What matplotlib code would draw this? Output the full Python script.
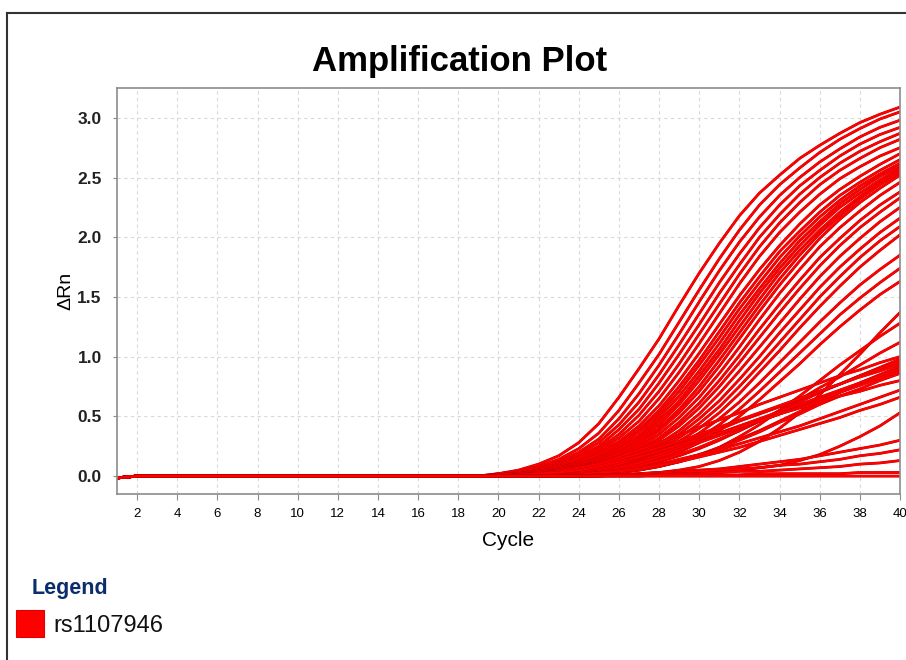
import matplotlib
matplotlib.use("Agg")
import matplotlib.pyplot as plt
import matplotlib.patheffects as pe
from matplotlib.patches import Rectangle
from matplotlib.lines import Line2D

plt.rcParams['font.family'] = ['Liberation Sans', 'DejaVu Sans']

# All wells sit on the baseline up to cycle 20, then one value per cycle 20..40
BASE_CYCLES = [1, 2, 19]
BASE_VALUES = [-0.015, 0.0, 0.0]
CYCLES = list(range(20, 41))

# Delta Rn per well (early, high plateau wells first)
top_wells = [
    [0.02, 0.05, 0.10, 0.17, 0.28, 0.44, 0.66, 0.90, 1.15, 1.43, 1.70, 1.95, 2.18, 2.37, 2.52, 2.66, 2.77, 2.87, 2.96, 3.03, 3.09],
    [0.02, 0.04, 0.08, 0.14, 0.23, 0.36, 0.55, 0.78, 1.02, 1.29, 1.56, 1.82, 2.06, 2.27, 2.44, 2.58, 2.71, 2.82, 2.91, 2.99, 3.05],
    [0.01, 0.03, 0.07, 0.12, 0.20, 0.31, 0.48, 0.69, 0.93, 1.19, 1.46, 1.72, 1.96, 2.17, 2.35, 2.50, 2.63, 2.74, 2.84, 2.92, 2.98],
    [0.01, 0.03, 0.06, 0.11, 0.18, 0.28, 0.43, 0.62, 0.85, 1.10, 1.36, 1.62, 1.86, 2.08, 2.27, 2.43, 2.56, 2.68, 2.78, 2.86, 2.92],
    [0.01, 0.02, 0.05, 0.10, 0.16, 0.25, 0.39, 0.56, 0.78, 1.02, 1.27, 1.53, 1.77, 2.00, 2.19, 2.36, 2.50, 2.62, 2.72, 2.80, 2.87],
    [0.01, 0.02, 0.05, 0.09, 0.15, 0.23, 0.35, 0.51, 0.71, 0.94, 1.19, 1.44, 1.69, 1.92, 2.12, 2.29, 2.44, 2.56, 2.66, 2.75, 2.82],
    [0.01, 0.02, 0.04, 0.08, 0.13, 0.21, 0.32, 0.46, 0.65, 0.87, 1.11, 1.36, 1.61, 1.84, 2.04, 2.21, 2.36, 2.49, 2.59, 2.68, 2.75],
]
mid_wells = [
    [0.01, 0.02, 0.04, 0.07, 0.12, 0.19, 0.29, 0.42, 0.59, 0.80, 1.03, 1.27, 1.51, 1.73, 1.93, 2.11, 2.27, 2.40, 2.51, 2.61, 2.70],
    [0.01, 0.02, 0.04, 0.07, 0.11, 0.18, 0.27, 0.39, 0.55, 0.75, 0.97, 1.21, 1.45, 1.67, 1.88, 2.05, 2.21, 2.35, 2.46, 2.56, 2.65],
    [0.01, 0.02, 0.03, 0.06, 0.10, 0.16, 0.25, 0.37, 0.52, 0.71, 0.93, 1.16, 1.40, 1.62, 1.83, 2.01, 2.17, 2.31, 2.43, 2.53, 2.62],
    [0.00, 0.01, 0.03, 0.06, 0.10, 0.15, 0.23, 0.34, 0.49, 0.67, 0.88, 1.11, 1.35, 1.57, 1.78, 1.97, 2.13, 2.28, 2.40, 2.51, 2.60],
    [0.00, 0.01, 0.03, 0.05, 0.09, 0.14, 0.22, 0.32, 0.46, 0.63, 0.84, 1.06, 1.30, 1.53, 1.74, 1.93, 2.10, 2.25, 2.37, 2.48, 2.58],
    [0.00, 0.01, 0.03, 0.05, 0.08, 0.13, 0.20, 0.30, 0.43, 0.60, 0.80, 1.02, 1.25, 1.48, 1.70, 1.89, 2.06, 2.21, 2.34, 2.46, 2.56],
    [0.00, 0.01, 0.02, 0.05, 0.08, 0.12, 0.19, 0.28, 0.40, 0.56, 0.75, 0.97, 1.20, 1.43, 1.65, 1.85, 2.03, 2.18, 2.32, 2.44, 2.54],
    [0.00, 0.01, 0.02, 0.04, 0.07, 0.11, 0.17, 0.26, 0.38, 0.53, 0.71, 0.92, 1.15, 1.38, 1.60, 1.80, 1.99, 2.15, 2.29, 2.41, 2.52],
    [0.00, 0.01, 0.02, 0.04, 0.07, 0.11, 0.16, 0.24, 0.35, 0.49, 0.66, 0.86, 1.08, 1.31, 1.53, 1.73, 1.92, 2.08, 2.22, 2.35, 2.46],
    [0.00, 0.01, 0.02, 0.04, 0.06, 0.10, 0.15, 0.22, 0.32, 0.45, 0.61, 0.80, 1.01, 1.23, 1.44, 1.64, 1.83, 1.99, 2.14, 2.27, 2.38],
    [0.00, 0.01, 0.02, 0.03, 0.06, 0.09, 0.14, 0.21, 0.30, 0.42, 0.57, 0.75, 0.95, 1.16, 1.37, 1.57, 1.76, 1.93, 2.08, 2.21, 2.33],
]
lower_wells = [
    [0.00, 0.01, 0.02, 0.03, 0.05, 0.08, 0.13, 0.19, 0.27, 0.38, 0.52, 0.69, 0.88, 1.08, 1.28, 1.48, 1.67, 1.84, 1.99, 2.13, 2.25],
    [0.00, 0.01, 0.01, 0.03, 0.05, 0.08, 0.12, 0.17, 0.25, 0.35, 0.48, 0.63, 0.81, 1.00, 1.20, 1.39, 1.58, 1.75, 1.90, 2.04, 2.16],
    [0.00, 0.00, 0.01, 0.03, 0.04, 0.07, 0.11, 0.16, 0.23, 0.32, 0.44, 0.58, 0.75, 0.93, 1.12, 1.31, 1.50, 1.67, 1.83, 1.97, 2.09],
    [0.00, 0.00, 0.01, 0.02, 0.04, 0.06, 0.10, 0.15, 0.21, 0.29, 0.40, 0.53, 0.69, 0.87, 1.05, 1.24, 1.42, 1.59, 1.75, 1.89, 2.02],
    [0.00, 0.00, 0.01, 0.02, 0.04, 0.06, 0.09, 0.13, 0.19, 0.26, 0.36, 0.48, 0.62, 0.78, 0.95, 1.12, 1.29, 1.45, 1.60, 1.73, 1.85],
    [0.00, 0.00, 0.01, 0.02, 0.03, 0.05, 0.08, 0.12, 0.17, 0.23, 0.32, 0.43, 0.56, 0.71, 0.87, 1.03, 1.19, 1.35, 1.49, 1.62, 1.74],
    [0.00, 0.00, 0.01, 0.02, 0.03, 0.05, 0.07, 0.10, 0.14, 0.20, 0.28, 0.38, 0.50, 0.64, 0.79, 0.94, 1.10, 1.25, 1.39, 1.52, 1.63],
]
late_wells = [
    [0.00, 0.00, 0.00, 0.00, 0.00, 0.01, 0.01, 0.02, 0.03, 0.05, 0.08, 0.13, 0.20, 0.29, 0.40, 0.53, 0.68, 0.85, 1.02, 1.20, 1.37],
    [0.00, 0.00, 0.00, 0.01, 0.01, 0.02, 0.03, 0.05, 0.08, 0.12, 0.17, 0.24, 0.33, 0.43, 0.55, 0.67, 0.80, 0.93, 1.05, 1.17, 1.28],
    [0.00, 0.00, 0.00, 0.01, 0.02, 0.03, 0.05, 0.08, 0.12, 0.17, 0.23, 0.30, 0.38, 0.46, 0.55, 0.64, 0.74, 0.83, 0.93, 1.03, 1.12],
]
shallow_wells = [
    [0.00, 0.01, 0.02, 0.04, 0.07, 0.11, 0.16, 0.22, 0.28, 0.34, 0.41, 0.47, 0.53, 0.60, 0.66, 0.72, 0.78, 0.84, 0.89, 0.95, 1.00],
    [0.00, 0.00, 0.00, 0.01, 0.02, 0.04, 0.06, 0.09, 0.13, 0.18, 0.24, 0.31, 0.38, 0.46, 0.54, 0.62, 0.70, 0.77, 0.84, 0.91, 0.98],
    [0.00, 0.00, 0.01, 0.02, 0.03, 0.06, 0.10, 0.15, 0.21, 0.27, 0.33, 0.39, 0.46, 0.52, 0.58, 0.65, 0.71, 0.77, 0.84, 0.90, 0.96],
    [0.00, 0.01, 0.02, 0.04, 0.07, 0.10, 0.14, 0.19, 0.24, 0.29, 0.35, 0.41, 0.47, 0.53, 0.59, 0.65, 0.71, 0.77, 0.83, 0.88, 0.94],
    [0.00, 0.00, 0.00, 0.01, 0.01, 0.02, 0.04, 0.06, 0.09, 0.13, 0.18, 0.24, 0.31, 0.38, 0.46, 0.54, 0.62, 0.70, 0.78, 0.85, 0.92],
    [0.00, 0.00, 0.01, 0.01, 0.03, 0.05, 0.08, 0.12, 0.18, 0.24, 0.30, 0.36, 0.42, 0.48, 0.54, 0.60, 0.66, 0.72, 0.78, 0.84, 0.90],
    [0.00, 0.00, 0.00, 0.01, 0.02, 0.04, 0.07, 0.11, 0.16, 0.22, 0.28, 0.34, 0.40, 0.46, 0.52, 0.58, 0.64, 0.70, 0.76, 0.82, 0.88],
    [0.00, 0.00, 0.00, 0.00, 0.01, 0.02, 0.03, 0.05, 0.08, 0.12, 0.17, 0.23, 0.30, 0.37, 0.45, 0.52, 0.60, 0.67, 0.73, 0.80, 0.86],
    [0.00, 0.01, 0.02, 0.03, 0.05, 0.08, 0.12, 0.16, 0.21, 0.26, 0.31, 0.36, 0.41, 0.46, 0.52, 0.57, 0.62, 0.67, 0.71, 0.76, 0.80],
    [0.00, 0.00, 0.00, 0.01, 0.02, 0.03, 0.05, 0.07, 0.10, 0.14, 0.18, 0.22, 0.27, 0.32, 0.37, 0.42, 0.48, 0.54, 0.60, 0.66, 0.72],
    [0.00, 0.00, 0.00, 0.01, 0.01, 0.03, 0.04, 0.06, 0.09, 0.12, 0.16, 0.20, 0.24, 0.29, 0.34, 0.39, 0.44, 0.49, 0.55, 0.60, 0.66],
]
low_wells = [
    [0.00, 0.00, 0.00, 0.00, 0.00, 0.00, 0.01, 0.01, 0.02, 0.02, 0.03, 0.04, 0.05, 0.07, 0.09, 0.13, 0.18, 0.25, 0.33, 0.42, 0.53],
    [0.00, 0.00, 0.00, 0.00, 0.00, 0.01, 0.01, 0.02, 0.03, 0.04, 0.05, 0.06, 0.08, 0.10, 0.12, 0.14, 0.17, 0.20, 0.23, 0.26, 0.30],
    [0.00, 0.00, 0.00, 0.00, 0.00, 0.01, 0.01, 0.01, 0.02, 0.03, 0.04, 0.05, 0.06, 0.07, 0.09, 0.10, 0.12, 0.14, 0.17, 0.19, 0.22],
    [0.00, 0.00, 0.00, 0.00, 0.00, 0.00, 0.01, 0.01, 0.01, 0.02, 0.02, 0.03, 0.04, 0.04, 0.05, 0.06, 0.07, 0.08, 0.10, 0.11, 0.13],
    [0.00, 0.00, 0.00, 0.00, 0.00, 0.00, 0.00, 0.00, 0.01, 0.01, 0.01, 0.01, 0.01, 0.02, 0.02, 0.02, 0.02, 0.02, 0.03, 0.03, 0.03],
    [0.00, 0.00, 0.00, 0.00, 0.00, 0.00, 0.00, 0.00, 0.00, 0.00, 0.00, 0.00, 0.00, 0.00, 0.00, 0.00, 0.00, 0.00, 0.00, 0.00, 0.00],
]

x_ticks = list(range(2, 41, 2))
y_ticks = [0.0, 0.5, 1.0, 1.5, 2.0, 2.5, 3.0]
legend_label = "rs1107946"

all_wells = top_wells + mid_wells + lower_wells + late_wells + shallow_wells + low_wells

fig = plt.figure(figsize=(9.06, 6.6), dpi=100)
ax = fig.add_axes([117 / 906, 1 - 494 / 660, 783 / 906, 406 / 660])

# bright red traces with a thin dark rim, as in the instrument export
rim = [pe.Stroke(linewidth=2.0, foreground="#b80000"), pe.Normal()]
for well in all_wells:
    ax.plot(BASE_CYCLES + CYCLES, BASE_VALUES + well, color="#ff0000",
            linewidth=1.6, path_effects=rim, solid_joinstyle="round")

ax.set_xlim(1, 40)
ax.set_ylim(-0.15, 3.25)
ax.set_xticks(x_ticks)
ax.set_yticks(y_ticks)
ax.set_yticklabels([f"{v:.1f}" for v in y_ticks])
ax.grid(True, color="#d9d9d9", linestyle=(0, (3, 3)), linewidth=0.8)
ax.set_axisbelow(True)

for s in ax.spines.values():
    s.set_color("#8c8c8c")
    s.set_linewidth(1.2)
ax.tick_params(axis="x", length=4, color="#8c8c8c", labelsize=9.5, pad=6)
ax.tick_params(axis="y", length=3, color="#8c8c8c", labelsize=12.5, pad=8)
for lbl in ax.get_yticklabels():
    lbl.set_fontweight("bold")
    lbl.set_color("#222222")

ax.set_xlabel("Cycle", fontsize=15, labelpad=8)
ax.set_ylabel("ΔRn", fontsize=14, labelpad=2)

fig.text(459.5 / 906, 1 - 71 / 660, "Amplification Plot", fontsize=25,
         fontweight="bold", ha="center", va="baseline")

# legend block under the plot
fig.text(32 / 906, 1 - 594 / 660, "Legend", fontsize=15.5, fontweight="bold",
         color="#0b2d6b", va="baseline")
fig.patches.append(Rectangle((16 / 906, 1 - 637 / 660), 28 / 906, 27 / 660,
                             transform=fig.transFigure, facecolor="#ff0000",
                             edgecolor="#e00000", linewidth=0.8))
fig.text(53 / 906, 1 - 632 / 660, legend_label, fontsize=17, va="baseline",
         color="#111111")

# outer frame (top and left edges visible)
fig.lines.append(Line2D([7 / 906, 1.0], [1 - 13 / 660, 1 - 13 / 660],
                        transform=fig.transFigure, color="#333333", linewidth=1.5))
fig.lines.append(Line2D([7 / 906, 7 / 906], [0.0, 1 - 13 / 660],
                        transform=fig.transFigure, color="#333333", linewidth=1.5))

fig.savefig("out.png", dpi=100)
